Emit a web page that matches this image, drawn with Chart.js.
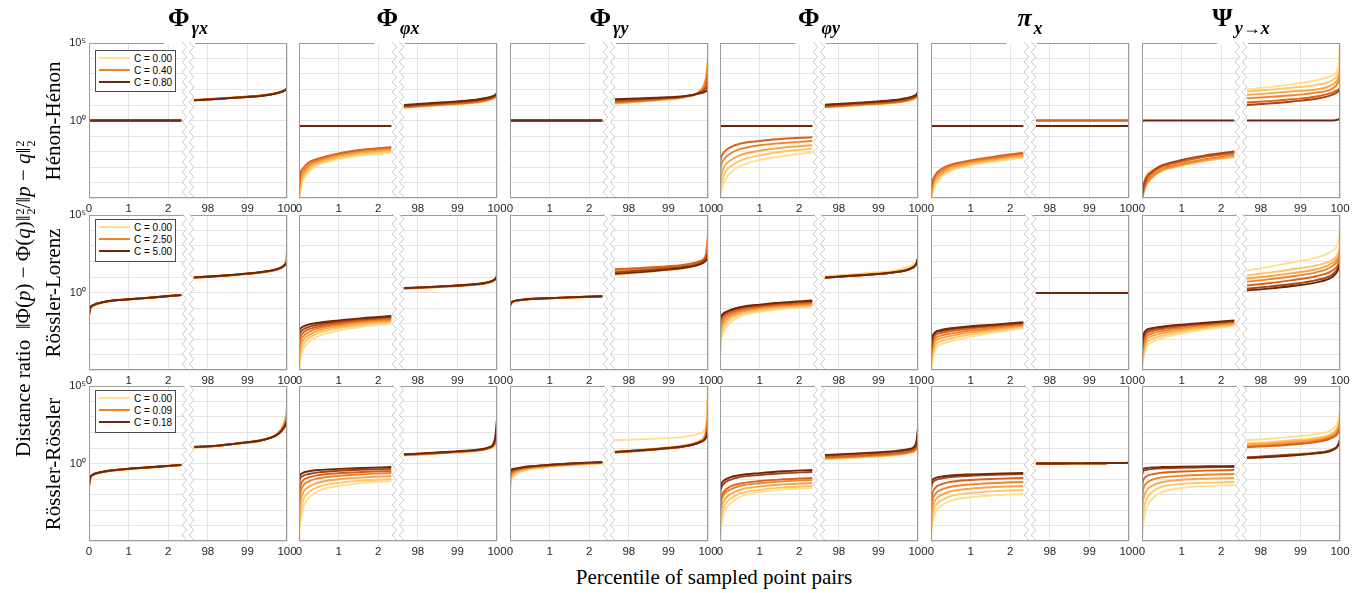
<!DOCTYPE html>
<html><head><meta charset="utf-8">
<script src="https://cdn.jsdelivr.net/npm/chart.js@4.4.1/dist/chart.umd.min.js"></script>
<style>
html,body{margin:0;padding:0;background:#fff;}
body{width:1372px;height:593px;position:relative;overflow:hidden;font-family:'Liberation Serif','Times New Roman',serif;color:#000;}
canvas.pc{position:absolute;}
.ttl{position:absolute;top:3px;width:198px;text-align:center;white-space:nowrap;line-height:28px;height:40px;}
.T{font:bold 26px 'Liberation Serif',serif;}
.Ti{font:bold italic 26px 'Liberation Serif',serif;}
.s{font:bold 18px 'Liberation Serif',serif;position:relative;top:8px;margin-left:2px;}
.s i{font-style:italic;}
.rl{position:absolute;width:220px;height:24px;line-height:24px;text-align:center;font-size:21px;white-space:nowrap;transform:rotate(-90deg);}
.yl{position:absolute;left:11px;top:457px;height:24px;line-height:24px;font-size:21px;white-space:nowrap;transform-origin:0 0;transform:rotate(-90deg);}
.ss{display:inline-block;vertical-align:-5px;font-size:12px;line-height:11px;margin-left:1px;}
.xl{position:absolute;left:464px;width:500px;top:565px;height:24px;line-height:24px;text-align:center;font-size:21px;white-space:nowrap;}
.leg{position:absolute;left:95px;width:79px;background:#fff;border:1px solid #4a4a4a;font:10px 'Liberation Sans',Arial,sans-serif;color:#000;}
.it{position:absolute;left:3px;height:12px;line-height:12px;white-space:nowrap;}
.sw{display:inline-block;width:31px;height:2px;vertical-align:middle;margin-right:4px;position:relative;top:-1px;}
</style></head>
<body>
<script>
// ---------- shared axes ----------
const xLeft  = [0, 0.03, 0.1, 0.25, 0.5, 1.0, 1.6, 2.33];
const xRight = [97.65, 98.2, 98.8, 99.4, 99.8, 99.95, 100];
const xTickLabels = ['0','1','2','98','99','100'];
const yTickLabels = {'5':'10\u2075','0':'10\u2070'};
const rowLabels = ['Hénon-Hénon','Rössler-Lorenz','Rössler-Rössler'];
const legendC = [['C = 0.00','C = 0.40','C = 0.80'],['C = 0.00','C = 2.50','C = 5.00'],['C = 0.00','C = 0.09','C = 0.18']];
const colTitles = [
 '<span class="T">Φ</span><span class="s"><i>γ</i><i>x</i></span>',
 '<span class="T">Φ</span><span class="s"><i>φ</i><i>x</i></span>',
 '<span class="T">Φ</span><span class="s"><i>γ</i><i>y</i></span>',
 '<span class="T">Φ</span><span class="s"><i>φ</i><i>y</i></span>',
 '<span class="Ti">π</span><span class="s"><i>x</i></span>',
 '<span class="T">Ψ</span><span class="s"><i>y</i>→<i>x</i></span>'
];
const palette = ['#FFDF8E','#FDC46A','#F9A447','#F08227','#D9621A','#A84312','#6E2709'];

// ---------- data: log10 of distance ratio; 8 left values (xLeft) then 7 right values (xRight) ----------
// Hénon-Hénon
const HH_gx = [
[0,0,0,0,0,0,0,0, 1.34,1.42,1.52,1.64,1.84,2.00,2.14],
[0,0,0,0,0,0,0,0, 1.33,1.41,1.51,1.63,1.83,1.99,2.12],
[0,0,0,0,0,0,0,0, 1.32,1.40,1.50,1.62,1.82,1.98,2.10],
[0,0,0,0,0,0,0,0, 1.31,1.40,1.50,1.62,1.82,1.97,2.09],
[0,0,0,0,0,0,0,0, 1.31,1.39,1.49,1.61,1.81,1.96,2.08],
[0,0,0,0,0,0,0,0, 1.30,1.39,1.49,1.61,1.80,1.95,2.06],
[0,0,0,0,0,0,0,0, 1.30,1.38,1.48,1.60,1.79,1.94,2.05]];
const HH_px = [
[-5.2,-4.6,-3.9,-3.3,-2.85,-2.5,-2.25,-2.1, 0.82,0.92,1.02,1.12,1.30,1.45,1.55],
[-5.0,-4.3,-3.7,-3.15,-2.75,-2.4,-2.15,-1.98, 0.84,0.94,1.04,1.14,1.32,1.47,1.58],
[-4.8,-4.0,-3.5,-3.0,-2.65,-2.3,-2.05,-1.88, 0.85,0.95,1.05,1.15,1.34,1.50,1.62],
[-4.6,-3.7,-3.3,-2.85,-2.55,-2.2,-1.95,-1.8, 0.86,0.96,1.06,1.17,1.36,1.52,1.65],
[-4.4,-3.5,-3.1,-2.7,-2.45,-2.12,-1.88,-1.72, 0.88,0.98,1.08,1.19,1.38,1.55,1.70],
[-0.35,-0.35,-0.35,-0.35,-0.35,-0.35,-0.35,-0.35, 0.95,1.05,1.15,1.27,1.45,1.60,1.72],
[-0.35,-0.35,-0.35,-0.35,-0.35,-0.35,-0.35,-0.35, 1.00,1.10,1.20,1.32,1.50,1.65,1.78]];
const HH_gy = [
[0,0,0,0,0,0,0,0, 1.10,1.20,1.33,1.50,1.85,2.50,3.10],
[0,0,0,0,0,0,0,0, 1.10,1.20,1.33,1.50,1.90,2.70,3.45],
[0,0,0,0,0,0,0,0, 1.12,1.22,1.35,1.52,1.92,2.80,4.10],
[0,0,0,0,0,0,0,0, 1.15,1.25,1.37,1.53,1.90,2.60,3.60],
[0,0,0,0,0,0,0,0, 1.20,1.28,1.40,1.55,1.85,2.30,3.00],
[0,0,0,0,0,0,0,0, 1.30,1.36,1.44,1.55,1.80,2.05,2.30],
[0,0,0,0,0,0,0,0, 1.37,1.42,1.48,1.57,1.75,1.88,1.97]];
const HH_py = [
[-5.2,-4.7,-4.0,-3.4,-2.95,-2.55,-2.3,-2.05, 0.84,0.93,1.03,1.13,1.30,1.45,1.58],
[-4.8,-4.2,-3.5,-3.0,-2.6,-2.25,-2.0,-1.82, 0.85,0.94,1.04,1.14,1.32,1.47,1.60],
[-4.2,-3.6,-3.0,-2.6,-2.25,-1.95,-1.75,-1.6, 0.86,0.95,1.05,1.15,1.33,1.49,1.63],
[-3.4,-2.9,-2.5,-2.15,-1.85,-1.6,-1.45,-1.32, 0.88,0.97,1.07,1.17,1.35,1.51,1.66],
[-2.8,-2.4,-2.05,-1.75,-1.5,-1.32,-1.18,-1.08, 0.90,0.99,1.09,1.19,1.37,1.53,1.70],
[-0.35,-0.35,-0.35,-0.35,-0.35,-0.35,-0.35,-0.35, 0.97,1.06,1.16,1.27,1.45,1.60,1.75],
[-0.35,-0.35,-0.35,-0.35,-0.35,-0.35,-0.35,-0.35, 1.02,1.10,1.20,1.32,1.50,1.66,1.82]];
const HH_pi = [
[-5.3,-4.8,-4.2,-3.7,-3.25,-2.9,-2.65,-2.4, 0,0,0,0,0,0,0],
[-5.1,-4.6,-4.0,-3.55,-3.15,-2.82,-2.58,-2.33, 0,0,0,0,0,0,0],
[-4.9,-4.4,-3.85,-3.45,-3.05,-2.75,-2.5,-2.25, 0,0,0,0,0,0,0],
[-4.7,-4.2,-3.7,-3.3,-2.95,-2.65,-2.42,-2.17, 0,0,0,0,0,0,0],
[-4.5,-4.0,-3.55,-3.15,-2.85,-2.57,-2.33,-2.08, 0,0,0,0,0,0,0],
[-0.35,-0.35,-0.35,-0.35,-0.35,-0.35,-0.35,-0.35, -0.35,-0.35,-0.35,-0.35,-0.35,-0.35,-0.35],
[-0.35,-0.35,-0.35,-0.35,-0.35,-0.35,-0.35,-0.35, -0.35,-0.35,-0.35,-0.35,-0.35,-0.35,-0.35]];
const HH_psi = [
[-5.0,-4.2,-3.6,-3.2,-2.9,-2.7,-2.5,-2.3, 2.00,2.15,2.35,2.60,2.90,3.40,5.00],
[-5.2,-4.6,-4.0,-3.5,-3.1,-2.8,-2.55,-2.3, 1.86,1.98,2.12,2.30,2.60,3.00,3.50],
[-5.3,-4.8,-4.2,-3.7,-3.25,-2.9,-2.6,-2.35, 1.65,1.75,1.88,2.00,2.30,2.70,3.20],
[-5.2,-4.7,-4.1,-3.6,-3.15,-2.8,-2.5,-2.2, 1.43,1.52,1.63,1.80,2.05,2.45,2.90],
[-5.0,-4.5,-3.9,-3.4,-3.0,-2.65,-2.35,-2.1, 1.16,1.25,1.37,1.55,1.80,1.98,2.10],
[-4.8,-4.3,-3.7,-3.3,-2.9,-2.55,-2.25,-2.0, 1.00,1.10,1.23,1.40,1.65,1.85,2.00],
[-0.1,0,0,0,0,0,0,0, 0,0,0,0,0,0.05,0.15]];
// Rössler-Lorenz
const RL_gx = [
[-1.6,-1.1,-0.88,-0.72,-0.58,-0.46,-0.34,-0.18, 0.93,1.02,1.14,1.30,1.52,1.85,3.05],
[-1.55,-1.08,-0.87,-0.71,-0.57,-0.45,-0.33,-0.17, 0.94,1.03,1.15,1.31,1.53,1.83,2.60],
[-1.5,-1.06,-0.86,-0.70,-0.56,-0.45,-0.33,-0.17, 0.95,1.04,1.16,1.32,1.53,1.82,2.30],
[-1.5,-1.05,-0.85,-0.70,-0.56,-0.45,-0.33,-0.17, 0.95,1.04,1.16,1.32,1.54,1.81,2.10],
[-1.45,-1.03,-0.84,-0.69,-0.56,-0.44,-0.32,-0.16, 0.96,1.05,1.17,1.33,1.54,1.80,2.00],
[-1.42,-1.01,-0.83,-0.68,-0.55,-0.44,-0.32,-0.16, 0.97,1.05,1.17,1.33,1.55,1.79,1.95],
[-1.4,-1.0,-0.82,-0.68,-0.55,-0.44,-0.32,-0.16, 0.98,1.06,1.18,1.34,1.55,1.78,1.92]];
const RL_px = [
[-5.2,-4.4,-3.7,-3.2,-2.8,-2.45,-2.2,-1.98, 0.24,0.30,0.38,0.48,0.65,0.95,1.40],
[-4.8,-4.0,-3.4,-2.95,-2.6,-2.3,-2.08,-1.9, 0.25,0.31,0.39,0.49,0.64,0.88,1.20],
[-4.3,-3.6,-3.1,-2.75,-2.45,-2.18,-1.98,-1.82, 0.26,0.32,0.40,0.50,0.65,0.85,1.10],
[-3.8,-3.2,-2.85,-2.55,-2.3,-2.07,-1.88,-1.74, 0.26,0.32,0.40,0.50,0.65,0.84,1.05],
[-3.3,-2.9,-2.6,-2.38,-2.18,-1.98,-1.8,-1.66, 0.27,0.33,0.41,0.51,0.66,0.84,1.02],
[-2.8,-2.6,-2.4,-2.22,-2.06,-1.88,-1.72,-1.58, 0.28,0.34,0.42,0.52,0.67,0.85,1.00],
[-2.5,-2.35,-2.2,-2.06,-1.95,-1.8,-1.65,-1.52, 0.29,0.35,0.43,0.53,0.68,0.86,1.00]];
const RL_gy = [
[-0.95,-0.72,-0.6,-0.51,-0.45,-0.39,-0.33,-0.27, 1.12,1.25,1.40,1.55,1.85,2.30,2.80],
[-0.93,-0.71,-0.59,-0.51,-0.44,-0.38,-0.32,-0.26, 1.20,1.32,1.46,1.62,1.90,2.40,3.30],
[-0.9,-0.7,-0.58,-0.5,-0.44,-0.38,-0.32,-0.26, 1.35,1.45,1.57,1.72,1.98,2.50,3.90],
[-0.88,-0.69,-0.57,-0.5,-0.43,-0.37,-0.31,-0.25, 1.45,1.53,1.63,1.77,2.02,2.45,3.50],
[-0.86,-0.68,-0.56,-0.49,-0.43,-0.37,-0.31,-0.25, 1.50,1.57,1.66,1.80,2.02,2.35,3.00],
[-0.84,-0.67,-0.56,-0.49,-0.42,-0.36,-0.30,-0.24, 1.30,1.40,1.52,1.67,1.90,2.20,2.60],
[-0.82,-0.66,-0.55,-0.48,-0.42,-0.36,-0.30,-0.24, 1.20,1.30,1.43,1.60,1.82,2.05,2.30]];
const RL_py = [
[-4.2,-3.2,-2.5,-1.95,-1.55,-1.25,-1.05,-0.92, 1.05,1.15,1.27,1.42,1.70,1.95,2.30],
[-3.6,-2.8,-2.2,-1.75,-1.42,-1.15,-0.97,-0.85, 1.00,1.10,1.21,1.36,1.60,1.85,2.20],
[-3.0,-2.4,-1.95,-1.58,-1.3,-1.05,-0.9,-0.78, 0.97,1.07,1.18,1.32,1.55,1.80,2.20],
[-2.5,-2.1,-1.75,-1.45,-1.2,-0.97,-0.82,-0.7, 0.96,1.06,1.16,1.30,1.52,1.78,2.15],
[-2.1,-1.8,-1.55,-1.32,-1.1,-0.9,-0.75,-0.64, 0.95,1.05,1.15,1.30,1.52,1.78,2.10],
[-1.8,-1.6,-1.4,-1.2,-1.0,-0.82,-0.68,-0.57, 0.95,1.05,1.15,1.30,1.52,1.80,2.15],
[-1.65,-1.5,-1.32,-1.14,-0.95,-0.78,-0.64,-0.52, 0.96,1.06,1.16,1.31,1.53,1.82,2.20]];
const RL_pi = [
[-5.2,-4.5,-3.7,-3.35,-3.15,-2.85,-2.57,-2.27, -0.03,-0.03,-0.03,-0.03,-0.03,-0.03,-0.03],
[-4.9,-4.2,-3.45,-3.15,-2.97,-2.7,-2.46,-2.2, -0.03,-0.03,-0.03,-0.03,-0.03,-0.03,-0.03],
[-4.6,-3.9,-3.2,-2.95,-2.8,-2.57,-2.36,-2.14, -0.03,-0.03,-0.03,-0.03,-0.03,-0.03,-0.03],
[-4.3,-3.6,-3.0,-2.78,-2.65,-2.45,-2.27,-2.08, -0.03,-0.03,-0.03,-0.03,-0.03,-0.03,-0.03],
[-4.0,-3.3,-2.8,-2.62,-2.5,-2.33,-2.18,-2.02, -0.03,-0.03,-0.03,-0.03,-0.03,-0.03,-0.03],
[-3.7,-3.0,-2.65,-2.5,-2.38,-2.24,-2.11,-1.96, -0.03,-0.03,-0.03,-0.03,-0.03,-0.03,-0.03],
[-3.5,-2.9,-2.57,-2.42,-2.31,-2.18,-2.07,-1.92, -0.03,-0.03,-0.03,-0.03,-0.03,-0.03,-0.03]];
const RL_psi = [
[-5.1,-4.4,-3.6,-3.2,-2.95,-2.64,-2.37,-2.13, 1.42,1.65,1.95,2.25,2.70,3.20,4.10],
[-4.8,-4.1,-3.35,-3.0,-2.8,-2.52,-2.28,-2.07, 1.10,1.28,1.50,1.75,2.10,2.50,3.00],
[-4.5,-3.8,-3.1,-2.82,-2.64,-2.4,-2.2,-2.01, 0.90,1.05,1.25,1.50,1.90,2.30,2.70],
[-4.2,-3.5,-2.9,-2.65,-2.5,-2.3,-2.12,-1.95, 0.70,0.85,1.05,1.30,1.70,2.10,2.50],
[-3.9,-3.2,-2.7,-2.5,-2.37,-2.2,-2.05,-1.89, 0.45,0.60,0.80,1.05,1.40,1.80,2.20],
[-3.6,-2.95,-2.55,-2.38,-2.27,-2.12,-1.99,-1.84, 0.25,0.38,0.55,0.80,1.15,1.60,2.00],
[-3.4,-2.8,-2.45,-2.3,-2.2,-2.07,-1.95,-1.8, 0.13,0.25,0.42,0.65,1.00,1.45,1.90]];
// Rössler-Rössler
const RR_gx = [
[-1.6,-1.0,-0.78,-0.62,-0.5,-0.37,-0.25,-0.11, 1.03,1.11,1.28,1.50,2.05,2.85,3.70],
[-1.55,-0.98,-0.76,-0.61,-0.49,-0.36,-0.25,-0.1, 1.04,1.12,1.29,1.51,2.05,2.80,3.50],
[-1.5,-0.96,-0.74,-0.6,-0.48,-0.35,-0.24,-0.1, 1.05,1.13,1.30,1.52,2.02,2.70,3.30],
[-1.5,-0.95,-0.73,-0.6,-0.48,-0.35,-0.24,-0.1, 1.05,1.13,1.30,1.52,2.00,2.60,3.10],
[-1.45,-0.94,-0.72,-0.59,-0.47,-0.35,-0.24,-0.1, 1.06,1.14,1.31,1.52,1.98,2.50,2.90],
[-1.42,-0.93,-0.72,-0.59,-0.47,-0.34,-0.23,-0.09, 1.06,1.14,1.31,1.53,1.95,2.45,2.80],
[-1.4,-0.92,-0.71,-0.58,-0.46,-0.34,-0.23,-0.09, 1.07,1.15,1.32,1.53,1.93,2.40,2.70]];
const RR_px = [
[-5.2,-4.0,-2.9,-2.2,-1.75,-1.45,-1.25,-1.13, 0.52,0.59,0.69,0.79,0.97,1.20,1.60],
[-4.4,-3.3,-2.4,-1.85,-1.5,-1.25,-1.1,-1.0, 0.53,0.60,0.70,0.80,0.98,1.22,1.70],
[-3.6,-2.6,-1.9,-1.5,-1.22,-1.02,-0.9,-0.81, 0.54,0.61,0.71,0.81,0.99,1.25,1.80],
[-2.9,-2.0,-1.45,-1.15,-0.95,-0.8,-0.69,-0.61, 0.55,0.62,0.72,0.82,1.00,1.30,1.95],
[-2.2,-1.5,-1.1,-0.9,-0.75,-0.63,-0.55,-0.48, 0.56,0.63,0.73,0.83,1.01,1.40,2.20],
[-1.3,-0.98,-0.8,-0.68,-0.57,-0.47,-0.4,-0.35, 0.58,0.65,0.74,0.84,1.03,1.50,2.50],
[-0.95,-0.75,-0.6,-0.5,-0.42,-0.35,-0.29,-0.23, 0.60,0.67,0.76,0.86,1.05,1.60,2.90]];
const RR_gy = [
[-1.9,-1.2,-0.8,-0.55,-0.38,-0.22,-0.1,0.0, 1.50,1.55,1.62,1.72,1.95,2.50,5.00],
[-1.6,-1.0,-0.7,-0.5,-0.34,-0.2,-0.08,0.02, 0.78,0.87,1.00,1.17,1.48,2.20,4.30],
[-1.3,-0.85,-0.6,-0.44,-0.3,-0.17,-0.06,0.04, 0.74,0.84,0.97,1.14,1.45,2.00,3.50],
[-1.0,-0.7,-0.52,-0.38,-0.26,-0.14,-0.04,0.06, 0.72,0.82,0.95,1.12,1.42,1.90,3.00],
[-0.8,-0.6,-0.46,-0.34,-0.23,-0.12,-0.02,0.07, 0.70,0.80,0.93,1.10,1.40,1.80,2.60],
[-0.6,-0.5,-0.4,-0.3,-0.2,-0.1,0.0,0.08, 0.72,0.82,0.94,1.10,1.38,1.70,2.30],
[-0.45,-0.4,-0.34,-0.27,-0.18,-0.08,0.02,0.1, 0.75,0.84,0.96,1.12,1.38,1.65,2.10]];
const RR_py = [
[-5.3,-4.2,-3.2,-2.6,-2.15,-1.85,-1.68,-1.58, 0.28,0.35,0.43,0.53,0.68,0.85,1.10],
[-4.5,-3.6,-2.8,-2.3,-1.95,-1.7,-1.55,-1.45, 0.30,0.37,0.45,0.55,0.70,0.88,1.15],
[-3.8,-3.0,-2.4,-2.0,-1.7,-1.48,-1.35,-1.26, 0.33,0.40,0.48,0.58,0.72,0.90,1.20],
[-3.2,-2.5,-2.0,-1.7,-1.45,-1.27,-1.15,-1.06, 0.35,0.42,0.50,0.60,0.75,0.95,1.30],
[-2.8,-2.2,-1.8,-1.5,-1.3,-1.13,-1.02,-0.94, 0.40,0.47,0.55,0.65,0.80,1.00,1.40],
[-2.0,-1.6,-1.3,-1.05,-0.88,-0.74,-0.63,-0.55, 0.50,0.57,0.65,0.75,0.90,1.15,1.80],
[-1.7,-1.35,-1.1,-0.9,-0.75,-0.62,-0.5,-0.42, 0.55,0.62,0.70,0.80,0.95,1.30,2.30]];
const RR_pi = [
[-5.0,-4.0,-3.2,-2.75,-2.4,-2.18,-2.05,-1.97, 0,0,0.01,0.02,0.03,0.04,0.06],
[-4.4,-3.5,-2.8,-2.4,-2.1,-1.9,-1.78,-1.71, 0,0,0.01,0.02,0.03,0.04,0.06],
[-3.8,-3.0,-2.4,-2.05,-1.8,-1.62,-1.52,-1.45, 0,0,0.01,0.02,0.03,0.04,0.06],
[-3.2,-2.5,-2.0,-1.7,-1.5,-1.35,-1.26,-1.19, 0,0,0.01,0.02,0.03,0.04,0.06],
[-2.6,-2.0,-1.6,-1.35,-1.18,-1.06,-0.99,-0.94, 0,0,0.01,0.02,0.03,0.04,0.06],
[-1.7,-1.3,-1.1,-0.97,-0.87,-0.79,-0.73,-0.68, 0,0,0.01,0.02,0.03,0.04,0.06],
[-1.4,-1.1,-0.95,-0.85,-0.77,-0.7,-0.65,-0.61, 0,0,0.01,0.02,0.03,0.04,0.06]];
const RR_psi = [
[-5.2,-4.0,-3.0,-2.3,-1.85,-1.58,-1.46,-1.39, 1.50,1.60,1.72,1.90,2.20,2.70,3.40],
[-4.2,-3.2,-2.4,-1.85,-1.5,-1.32,-1.24,-1.19, 1.30,1.38,1.50,1.65,1.95,2.40,3.00],
[-3.2,-2.4,-1.8,-1.45,-1.2,-1.05,-0.98,-0.94, 1.20,1.28,1.40,1.55,1.85,2.25,2.80],
[-2.4,-1.7,-1.3,-1.05,-0.9,-0.8,-0.73,-0.68, 1.10,1.18,1.30,1.45,1.75,2.10,2.60],
[-1.6,-1.1,-0.85,-0.7,-0.6,-0.52,-0.46,-0.42, 1.05,1.12,1.23,1.38,1.65,1.95,2.30],
[-0.8,-0.5,-0.42,-0.36,-0.31,-0.27,-0.25,-0.23, 0.40,0.48,0.58,0.70,0.90,1.20,1.60],
[-0.45,-0.35,-0.3,-0.26,-0.23,-0.2,-0.18,-0.16, 0.35,0.42,0.52,0.65,0.85,1.15,1.50]];

const panels = [
 [HH_gx, HH_px, HH_gy, HH_py, HH_pi, HH_psi],
 [RL_gx, RL_px, RL_gy, RL_py, RL_pi, RL_psi],
 [RR_gx, RR_px, RR_gy, RR_py, RR_pi, RR_psi]
];

// ---------- layout ----------
const colLeft = [89, 299, 510, 720, 931, 1142];
const rowTop = [43, 215, 386];
const AW = 198, AH = 155, PADL = 30, PADT = 10, PADR = 14, PADB = 22;
const legendTop = [50, 219, 390];

Chart.defaults.font.family = "'Liberation Sans', Arial, sans-serif";
Chart.defaults.font.size = 11;
Chart.defaults.color = '#262626';

function lineData(vals){
  const pts = [];
  xLeft.forEach((x,k)=>pts.push({x:x, y:Math.pow(10, vals[k])}));
  pts.push({x:2.5, y:null});
  xRight.forEach((x,k)=>pts.push({x:x-95, y:Math.pow(10, vals[8+k])}));
  return pts;
}

const framePlugin = {
  id:'frame',
  afterDraw(chart, args, opts){
    const ctx = chart.ctx, a = chart.chartArea, xs = chart.scales.x;
    ctx.save();
    ctx.strokeStyle = '#9c9c9c'; ctx.lineWidth = 1;
    ctx.strokeRect(Math.round(a.left)+0.5, Math.round(a.top)+0.5, Math.round(a.width)-1, Math.round(a.height)-1);
    if (opts.row === 0){
      ctx.fillStyle = '#fff';
      const g0 = xs.getPixelForValue(1.9), g1 = xs.getPixelForValue(2.68);
      ctx.fillRect(g0, a.top-1, g1-g0, 3);
    }
    const xl = xs.getPixelForValue(2.41), xr = xs.getPixelForValue(2.59);
    const top = a.top-1, bot = a.bottom+1, amp = 2.3, half = 5;
    const zig = (xc)=>{ const p=[]; let s=-1; for(let y=top; y<=bot+0.01; y+=half){ p.push([xc+s*amp, y]); s=-s; } return p; };
    const L = zig(xl), R = zig(xr);
    ctx.fillStyle = '#fff';
    ctx.beginPath();
    L.forEach((p,i)=> i? ctx.lineTo(p[0],p[1]) : ctx.moveTo(p[0],p[1]));
    for(let i=R.length-1;i>=0;i--) ctx.lineTo(R[i][0], R[i][1]);
    ctx.closePath(); ctx.fill();
    ctx.strokeStyle = '#c9c9c9'; ctx.lineWidth = 1;
    [L,R].forEach(Z=>{ ctx.beginPath(); Z.forEach((p,i)=> i? ctx.lineTo(p[0],p[1]) : ctx.moveTo(p[0],p[1])); ctx.stroke(); });
    ctx.restore();
  }
};

function el(tag, cls, html, style){
  const d = document.createElement(tag); if(cls) d.className = cls;
  if(html!==undefined) d.innerHTML = html; if(style) d.setAttribute('style', style);
  document.body.appendChild(d); return d;
}

for (let r=0; r<3; r++){
  for (let c=0; c<6; c++){
    const cv = document.createElement('canvas');
    cv.className = 'pc';
    const W = PADL+AW+PADR, H = PADT+AH+PADB;
    cv.width = W; cv.height = H;
    cv.style.width = W+'px'; cv.style.height = H+'px';
    cv.style.left = (colLeft[c]-PADL)+'px'; cv.style.top = (rowTop[r]-PADT)+'px';
    document.body.appendChild(cv);
    const lines = panels[r][c];
    const n = lines.length;
    const datasets = lines.map((vals,i)=>({
      data: lineData(vals),
      borderColor: palette[i], backgroundColor: palette[i],
      borderWidth: 1.9, pointRadius: 0, spanGaps: false,
      cubicInterpolationMode: 'monotone', order: n-1-i
    }));
    new Chart(cv, {
      type:'line',
      data:{datasets},
      options:{
        responsive:false, animation:false, events:[],
        layout:{autoPadding:false, padding:{left:0, top:PADT, right:PADR, bottom:0}},
        plugins:{legend:{display:false}, tooltip:{enabled:false}, frame:{row:r}},
        scales:{
          x:{type:'linear', min:0, max:5,
             grid:{color:'#e4e4e4', lineWidth:1, drawTicks:false},
             border:{display:false},
             ticks:{stepSize:1, padding:4, maxRotation:0, autoSkip:false, font:{size:11.5},
                    callback:(v)=> xTickLabels[Math.round(v)] ?? ''},
             afterFit:(s)=>{ s.height = PADB; }},
          y:{type:'logarithmic', min:1e-5, max:1e5,
             grid:{color:'#e4e4e4', lineWidth:1, drawTicks:false},
             border:{display:false},
             afterBuildTicks:(s)=>{ const t=[]; for(let e=-5;e<=5;e++) t.push({value:Math.pow(10,e)}); s.ticks=t; },
             ticks:{padding:3, autoSkip:false,
                    callback:(v)=>{ if(c!==0) return ''; const e=String(Math.round(Math.log10(v))); return yTickLabels[e] ?? ''; }},
             afterFit:(s)=>{ s.width = PADL; }}
        }
      },
      plugins:[framePlugin]
    });
  }
  // legend
  const lg = el('div','leg','', `top:${legendTop[r]}px;height:${r===0?40:41}px;`);
  [0,3,6].forEach((pi,k)=>{
    const it = document.createElement('div'); it.className='it'; it.style.top = (2+k*12)+'px';
    it.innerHTML = `<span class="sw" style="background:${palette[pi]}"></span>${legendC[r][k]}`;
    lg.appendChild(it);
  });
  // row label
  const cy = rowTop[r] + AH/2;
  el('div','rl', rowLabels[r], `left:${53-110}px;top:${cy-12}px;`);
}
colTitles.forEach((t,c)=> el('div','ttl', t, `left:${colLeft[c]}px;`));
el('div','yl','Distance ratio&nbsp; ‖Φ(<i>p</i>) − Φ(<i>q</i>)‖<span class="ss">2<br>2</span>/‖<i>p</i> − <i>q</i>‖<span class="ss">2<br>2</span>');
el('div','xl','Percentile of sampled point pairs');
</script>
</body></html>
